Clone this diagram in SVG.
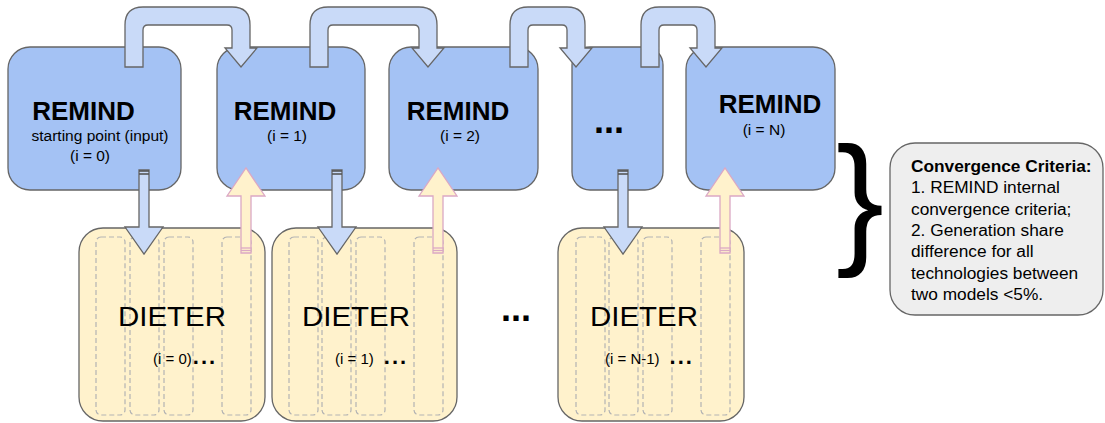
<svg xmlns="http://www.w3.org/2000/svg" width="1105" height="423" viewBox="0 0 1105 423">
<style>
.remind{fill:#a4c2f4;stroke:#666;stroke-width:1.3}
.dieter{fill:#fff2cc;stroke:#666;stroke-width:1.3}
.dash{fill:none;stroke:#b3b3b3;stroke-width:1.2;stroke-dasharray:5 3}
.flow{fill:#c9daf8;stroke:#666;stroke-width:1.3;stroke-linejoin:miter}
.up{fill:#fff2cc;stroke:#dba8c4;stroke-width:1.3}
.cap{stroke:#555;stroke-width:1.6}
.pcap{stroke:#dba8c4;stroke-width:1.3}
.conv{fill:#eeeeee;stroke:#666;stroke-width:1.3}
text{font-family:"Liberation Sans",Arial,sans-serif;fill:#000}
.rt{font-size:26px;font-weight:bold;text-anchor:middle}
.rs{font-size:15.5px;text-anchor:middle}
.dt{font-size:27px;text-anchor:middle}
.ds{font-size:15px}
.dd{font-size:22px;font-weight:bold;letter-spacing:2px}
.big{font-size:36px;font-weight:bold}
.ct{font-size:17.3px}
</style>

<g id="remind0"><rect class="remind" x="8" y="47" width="173" height="143" rx="22"/>
<text class="rt" x="83.5" y="120">REMIND</text>
<text class="rs" x="100" y="141">starting point (input)</text>
<text class="rs" x="90" y="161">(i = 0)</text></g>

<g id="remind1"><rect class="remind" x="217" y="47" width="148" height="143" rx="22"/>
<text class="rt" x="285" y="120">REMIND</text>
<text class="rs" x="287" y="141">(i = 1)</text></g>

<g id="remind2"><rect class="remind" x="389" y="47" width="149" height="143" rx="22"/>
<text class="rt" x="458" y="120">REMIND</text>
<text class="rs" x="460" y="141">(i = 2)</text></g>

<g id="remindDots"><rect class="remind" x="572" y="47" width="91" height="143" rx="18"/>
<text class="big" x="594" y="133">...</text></g>

<g id="remindN"><rect class="remind" x="686" y="47" width="149" height="143" rx="22"/>
<text class="rt" x="770" y="113">REMIND</text>
<text class="rs" x="764" y="135">(i = N)</text></g>

<g id="dieter0"><rect class="dieter" x="79" y="228" width="186" height="193" rx="24"/>
<rect class="dash" x="96" y="237" width="29" height="178" rx="5"/>
<rect class="dash" x="130" y="237" width="29" height="178" rx="5"/>
<rect class="dash" x="164" y="237" width="29" height="178" rx="5"/>
<rect class="dash" x="222" y="237" width="29" height="178" rx="5"/>
<text class="dt" x="172" y="326" textLength="108" lengthAdjust="spacingAndGlyphs">DIETER</text>
<text x="153" y="364"><tspan class="ds">(i = 0)</tspan><tspan class="dd" dx="1">...</tspan></text></g>

<g id="dieter1"><rect class="dieter" x="272" y="228" width="185" height="193" rx="24"/>
<rect class="dash" x="289" y="237" width="29" height="178" rx="5"/>
<rect class="dash" x="322" y="237" width="29" height="178" rx="5"/>
<rect class="dash" x="356" y="237" width="29" height="178" rx="5"/>
<rect class="dash" x="414" y="237" width="29" height="178" rx="5"/>
<text class="dt" x="356" y="326" textLength="108" lengthAdjust="spacingAndGlyphs">DIETER</text>
<text x="335" y="364"><tspan class="ds">(i = 1)</tspan><tspan class="dd" dx="10">...</tspan></text></g>

<g id="dieterDots"><text class="big" x="501" y="321">...</text></g>

<g id="dieterN1"><rect class="dieter" x="558" y="228" width="186" height="193" rx="24"/>
<rect class="dash" x="576" y="237" width="29" height="178" rx="5"/>
<rect class="dash" x="609" y="237" width="29" height="178" rx="5"/>
<rect class="dash" x="643" y="237" width="29" height="178" rx="5"/>
<rect class="dash" x="701" y="237" width="29" height="178" rx="5"/>
<text class="dt" x="644" y="326" textLength="108" lengthAdjust="spacingAndGlyphs">DIETER</text>
<text x="605" y="364"><tspan class="ds">(i = N-1)</tspan><tspan class="dd" dx="10">...</tspan></text></g>

<g id="brace"><text x="836" y="248" style="font-size:144px">}</text></g>

<g id="convergence"><rect class="conv" x="890" y="143" width="213" height="172" rx="25"/>
<text class="ct" x="911" y="172" font-weight="bold">Convergence Criteria:</text>
<text class="ct" x="911" y="193.3">1. REMIND internal</text>
<text class="ct" x="911" y="214.6">convergence criteria;</text>
<text class="ct" x="911" y="235.9">2. Generation share</text>
<text class="ct" x="911" y="257.2">difference for all</text>
<text class="ct" x="911" y="278.5">technologies between</text>
<text class="ct" x="911" y="299.8">two models &lt;5%.</text></g>

<g id="connectors">
<path class="flow" d="M125,67 L125,25 Q125,7 143,7 L232,7 Q250,7 250,25 L250,48 L257,48 L241,67 L225,48 L232,48 L232,30 Q232,25 227,25 L148,25 Q143,25 143,30 L143,67 Z"/>
<path class="flow" d="M310,67 L310,25 Q310,7 328,7 L419,7 Q437,7 437,25 L437,48 L444,48 L428,67 L412,48 L419,48 L419,30 Q419,25 414,25 L333,25 Q328,25 328,30 L328,67 Z"/>
<path class="flow" d="M510,67 L510,25 Q510,7 528,7 L567,7 Q585,7 585,25 L585,48 L592,48 L576,67 L560,48 L567,48 L567,30 Q567,25 562,25 L533,25 Q528,25 528,30 L528,67 Z"/>
<path class="flow" d="M641,67 L641,25 Q641,7 659,7 L697,7 Q715,7 715,25 L715,48 L722,48 L706,67 L690,48 L697,48 L697,30 Q697,25 692,25 L664,25 Q659,25 659,30 L659,67 Z"/>

<path class="flow" d="M139,170 L149,170 L149,227 L163,227 L144,254 L125,227 L139,227 Z"/>
<line class="cap" x1="139" y1="171" x2="149" y2="171"/><line class="cap" x1="139" y1="174" x2="149" y2="174"/>
<path class="flow" d="M332,170 L342,170 L342,227 L356,227 L337,254 L318,227 L332,227 Z"/>
<line class="cap" x1="332" y1="171" x2="342" y2="171"/><line class="cap" x1="332" y1="174" x2="342" y2="174"/>
<path class="flow" d="M618,170 L628,170 L628,227 L642,227 L623,254 L604,227 L618,227 Z"/>
<line class="cap" x1="618" y1="171" x2="628" y2="171"/><line class="cap" x1="618" y1="174" x2="628" y2="174"/>

<path class="up" d="M241,253 L251,253 L251,196 L265,196 L246,168 L227,196 L241,196 Z"/>
<line class="pcap" x1="241" y1="248" x2="251" y2="248"/><line class="pcap" x1="241" y1="250.5" x2="251" y2="250.5"/>
<path class="up" d="M433,253 L443,253 L443,196 L457,196 L438,168 L419,196 L433,196 Z"/>
<line class="pcap" x1="433" y1="248" x2="443" y2="248"/><line class="pcap" x1="433" y1="250.5" x2="443" y2="250.5"/>
<path class="up" d="M720,253 L730,253 L730,196 L744,196 L725,168 L706,196 L720,196 Z"/>
<line class="pcap" x1="720" y1="248" x2="730" y2="248"/><line class="pcap" x1="720" y1="250.5" x2="730" y2="250.5"/>
</g>
</svg>
